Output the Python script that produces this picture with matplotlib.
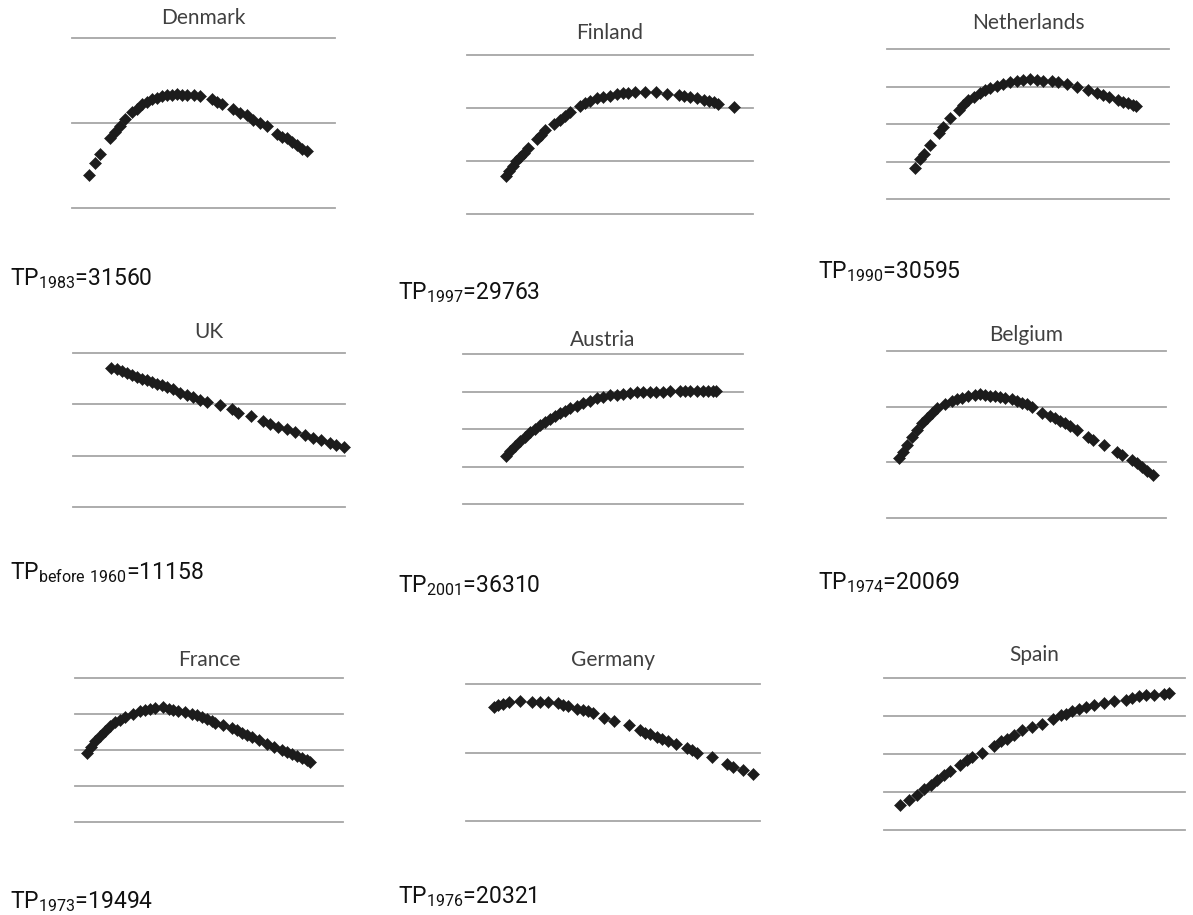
import matplotlib
matplotlib.use("Agg")
import matplotlib.pyplot as plt

# ---------------- data (x: share of axis width, y: gridline units) ----------------
countries = ["Denmark", "Finland", "Netherlands", "UK", "Austria", "Belgium",
             "France", "Germany", "Spain"]

tp_years = ["1983", "1997", "1990", "before 1960", "2001", "1974", "1973", "1976", None]
tp_values = ["31560", "29763", "30595", "11158", "36310", "20069", "19494", "20321", None]

n_intervals = [2, 3, 4, 3, 4, 3, 4, 2, 4]

denmark_x = [6.3, 8.6, 10.8, 14.6, 16.5, 18.4, 20.3, 22.8, 24.7, 26.6, 28.5, 30.4, 32.3, 34.2,
             36.1, 38.0, 39.9, 41.8, 43.7, 46.2, 48.7, 53.2, 55.1, 57.0, 61.4, 63.9, 66.5,
             69.0, 71.5, 74.1, 77.8, 79.7, 81.6, 83.5, 85.4, 87.3, 89.2]
denmark_y = [0.39, 0.53, 0.64, 0.82, 0.90, 0.97, 1.05, 1.13, 1.17, 1.22, 1.25, 1.28, 1.30, 1.32,
             1.33, 1.33, 1.34, 1.33, 1.33, 1.33, 1.32, 1.28, 1.25, 1.22, 1.16, 1.12, 1.09,
             1.04, 1.00, 0.96, 0.87, 0.84, 0.82, 0.78, 0.74, 0.70, 0.67]

finland_x = [13.6, 14.7, 16.1, 17.3, 18.5, 19.9, 21.4, 24.5, 26.0, 27.2, 30.4, 32.5, 34.2, 36.0,
             39.5, 41.2, 43.0, 45.3, 47.7, 50.0, 52.3, 54.7, 56.4, 58.8, 62.3, 66.1, 69.9,
             74.0, 75.7, 78.0, 80.4, 82.7, 84.5, 86.2, 87.9, 93.2]
finland_y = [0.72, 0.81, 0.91, 1.00, 1.08, 1.16, 1.25, 1.41, 1.50, 1.58, 1.69, 1.78, 1.84, 1.92,
             2.03, 2.09, 2.14, 2.18, 2.21, 2.23, 2.26, 2.28, 2.29, 2.30, 2.30, 2.30, 2.27,
             2.25, 2.23, 2.21, 2.19, 2.16, 2.13, 2.11, 2.08, 2.02]

netherlands_x = [10.0, 11.8, 13.0, 15.1, 18.3, 20.0, 22.4, 25.4, 27.1, 28.9, 30.7, 33.0, 34.8,
                 36.6, 39.0, 41.3, 43.6, 46.0, 48.3, 50.7, 53.1, 55.4, 58.4, 60.7, 63.7, 67.2,
                 71.3, 74.3, 76.7, 78.8, 82.0, 83.7, 85.5, 87.3, 88.4]
netherlands_y = [0.82, 1.06, 1.20, 1.44, 1.75, 1.93, 2.16, 2.38, 2.51, 2.63, 2.73, 2.82, 2.90,
                 2.96, 3.02, 3.07, 3.12, 3.15, 3.18, 3.20, 3.18, 3.15, 3.14, 3.11, 3.06, 2.98,
                 2.90, 2.82, 2.78, 2.72, 2.65, 2.60, 2.56, 2.51, 2.47]

uk_x = [13.9, 16.1, 18.0, 19.8, 21.6, 23.5, 25.3, 27.1, 29.0, 30.8, 32.6, 34.5, 36.9, 39.4,
        41.8, 44.3, 46.7, 49.1, 54.0, 58.3, 60.8, 65.3, 69.9, 72.4, 75.4, 78.5, 81.5, 85.2,
        88.3, 91.3, 94.4, 96.8, 99.5]
uk_y = [2.71, 2.68, 2.64, 2.61, 2.58, 2.53, 2.50, 2.47, 2.44, 2.40, 2.37, 2.33, 2.29, 2.23,
        2.19, 2.14, 2.09, 2.05, 1.99, 1.90, 1.83, 1.77, 1.67, 1.62, 1.56, 1.52, 1.46, 1.40,
        1.34, 1.30, 1.25, 1.20, 1.17]

austria_x = [15.4, 16.9, 18.6, 20.4, 22.2, 24.0, 25.8, 27.6, 29.3, 31.1, 32.9, 34.7, 36.5, 38.2,
             40.6, 43.0, 45.4, 47.7, 50.1, 52.5, 54.9, 57.2, 59.6, 62.0, 64.4, 66.7, 69.1,
             71.5, 73.9, 77.4, 79.2, 81.0, 83.4, 85.7, 87.5, 89.3, 90.5]
austria_y = [1.27, 1.42, 1.55, 1.67, 1.79, 1.91, 2.01, 2.11, 2.20, 2.28, 2.35, 2.42, 2.49, 2.55,
             2.62, 2.69, 2.76, 2.82, 2.86, 2.90, 2.92, 2.94, 2.96, 2.98, 2.98, 2.99, 3.00,
             3.00, 3.01, 3.01, 3.01, 3.01, 3.01, 3.01, 3.01, 3.01, 3.01]

belgium_x = [4.2, 5.8, 7.2, 8.9, 10.7, 12.5, 14.3, 16.1, 17.9, 20.9, 23.3, 25.1, 26.8, 29.2,
             31.6, 33.4, 35.2, 37.0, 38.8, 40.6, 42.4, 44.7, 46.5, 48.3, 50.1, 51.9, 55.5,
             58.5, 60.3, 62.1, 63.8, 65.6, 68.0, 72.2, 74.0, 77.6, 82.3, 84.1, 87.7, 89.5,
             91.3, 93.1, 95.2]
belgium_y = [1.07, 1.19, 1.31, 1.45, 1.58, 1.70, 1.80, 1.89, 1.97, 2.04, 2.10, 2.13, 2.16, 2.19,
             2.21, 2.22, 2.21, 2.20, 2.19, 2.18, 2.16, 2.13, 2.10, 2.07, 2.04, 1.99, 1.89,
             1.84, 1.79, 1.75, 1.70, 1.65, 1.58, 1.46, 1.40, 1.31, 1.19, 1.13, 1.04, 0.98,
             0.92, 0.85, 0.78]

france_x = [4.4, 5.9, 7.5, 9.3, 11.2, 13.1, 15.0, 16.8, 18.7, 21.8, 24.3, 26.2, 28.0, 29.9,
            33.0, 34.9, 36.7, 38.6, 41.1, 43.6, 45.5, 47.3, 49.2, 51.0, 52.3, 55.4, 58.5,
            60.4, 62.3, 64.1, 66.0, 68.5, 71.6, 74.1, 77.2, 79.1, 80.9, 82.8, 84.7, 86.6, 87.8]
france_y = [1.92, 2.08, 2.26, 2.38, 2.54, 2.68, 2.78, 2.84, 2.91, 3.01, 3.07, 3.12, 3.15, 3.17,
            3.19, 3.15, 3.12, 3.09, 3.05, 3.01, 2.96, 2.92, 2.86, 2.80, 2.75, 2.70, 2.61,
            2.55, 2.47, 2.41, 2.35, 2.27, 2.17, 2.08, 1.99, 1.94, 1.89, 1.82, 1.78, 1.71, 1.67]

germany_x = [9.5, 11.0, 12.7, 14.7, 18.4, 22.3, 25.2, 28.0, 31.4, 33.1, 34.8, 37.6, 39.9, 41.6,
             43.3, 46.9, 50.3, 55.4, 59.2, 60.9, 62.6, 64.9, 66.6, 68.8, 71.4, 75.1, 76.8,
             78.5, 83.6, 88.7, 90.9, 94.1, 97.5]
germany_y = [1.67, 1.69, 1.71, 1.73, 1.75, 1.74, 1.73, 1.73, 1.72, 1.69, 1.68, 1.64, 1.62, 1.61,
             1.58, 1.51, 1.46, 1.40, 1.33, 1.29, 1.27, 1.23, 1.20, 1.17, 1.12, 1.07, 1.04,
             1.00, 0.93, 0.83, 0.79, 0.74, 0.69]

spain_x = [5.3, 8.3, 10.9, 13.3, 15.5, 17.7, 19.9, 21.9, 25.2, 27.7, 29.3, 32.7, 36.5, 38.8,
           41.0, 43.2, 46.0, 49.3, 52.6, 56.3, 58.7, 60.4, 62.6, 64.8, 67.0, 69.8, 73.1,
           76.4, 80.3, 82.5, 84.7, 86.9, 89.7, 93.0, 94.7]
spain_y = [0.65, 0.78, 0.93, 1.08, 1.19, 1.32, 1.46, 1.56, 1.72, 1.83, 1.92, 2.03, 2.22, 2.33,
           2.40, 2.49, 2.62, 2.71, 2.80, 2.92, 3.02, 3.06, 3.12, 3.18, 3.23, 3.28, 3.34,
           3.39, 3.43, 3.47, 3.52, 3.54, 3.56, 3.59, 3.61]

series_x = [denmark_x, finland_x, netherlands_x, uk_x, austria_x, belgium_x,
            france_x, germany_x, spain_x]
series_y = [denmark_y, finland_y, netherlands_y, uk_y, austria_y, belgium_y,
            france_y, germany_y, spain_y]

# ---------------- layout (pixels) ----------------
W, H = 1193, 915
# (left, top, right, bottom) of gridline area
boxes = [(72, 38, 335, 208), (467, 55, 753, 214), (887, 49, 1169, 199),
         (73, 353, 345, 507), (463, 354, 743, 504), (887, 351, 1166, 518),
         (75, 678, 343, 822), (466, 684, 760, 821), (884, 678, 1185, 830)]
title_y = [18, 33, 23, 332, 340, 335, 660, 660, 655]
tp_pos = [(10, 279), (398, 293), (818, 272), (10, 573), (398, 586), (818, 583),
          (10, 902), (398, 897), None]

fig = plt.figure(figsize=(W / 100, H / 100), dpi=100)
fig.patch.set_facecolor("white")

for i, name in enumerate(countries):
    l, t, r, b = boxes[i]
    ax = fig.add_axes([l / W, 1 - b / H, (r - l) / W, (b - t) / H])
    n = n_intervals[i]
    ax.set_xlim(0, 100)
    ax.set_ylim(0, n)
    for k in range(n + 1):
        ax.axhline(k, color="#a6a6a6", lw=1.3, clip_on=False, zorder=1)
    ax.plot(series_x[i], series_y[i], ls="none", marker="D", ms=6.1,
            mfc="#1c1c1c", mec="#1c1c1c", mew=0.4, zorder=3, clip_on=False)
    ax.axis("off")
    fig.text((l + r) / 2 / W, 1 - title_y[i] / H, name, ha="center", va="center",
             fontsize=15, color="#404040", family="Lato")
    if tp_pos[i] is not None:
        x0, y0 = tp_pos[i]
        fig.text(x0 / W, 1 - y0 / H,
                 r"TP$_{\mathregular{" + tp_years[i].replace(" ", r"\ ") + r"}}$=" + tp_values[i],
                 ha="left", va="center", fontsize=16.5, color="#111111", family="Roboto")

fig.savefig("out.png", dpi=100, facecolor="white")
